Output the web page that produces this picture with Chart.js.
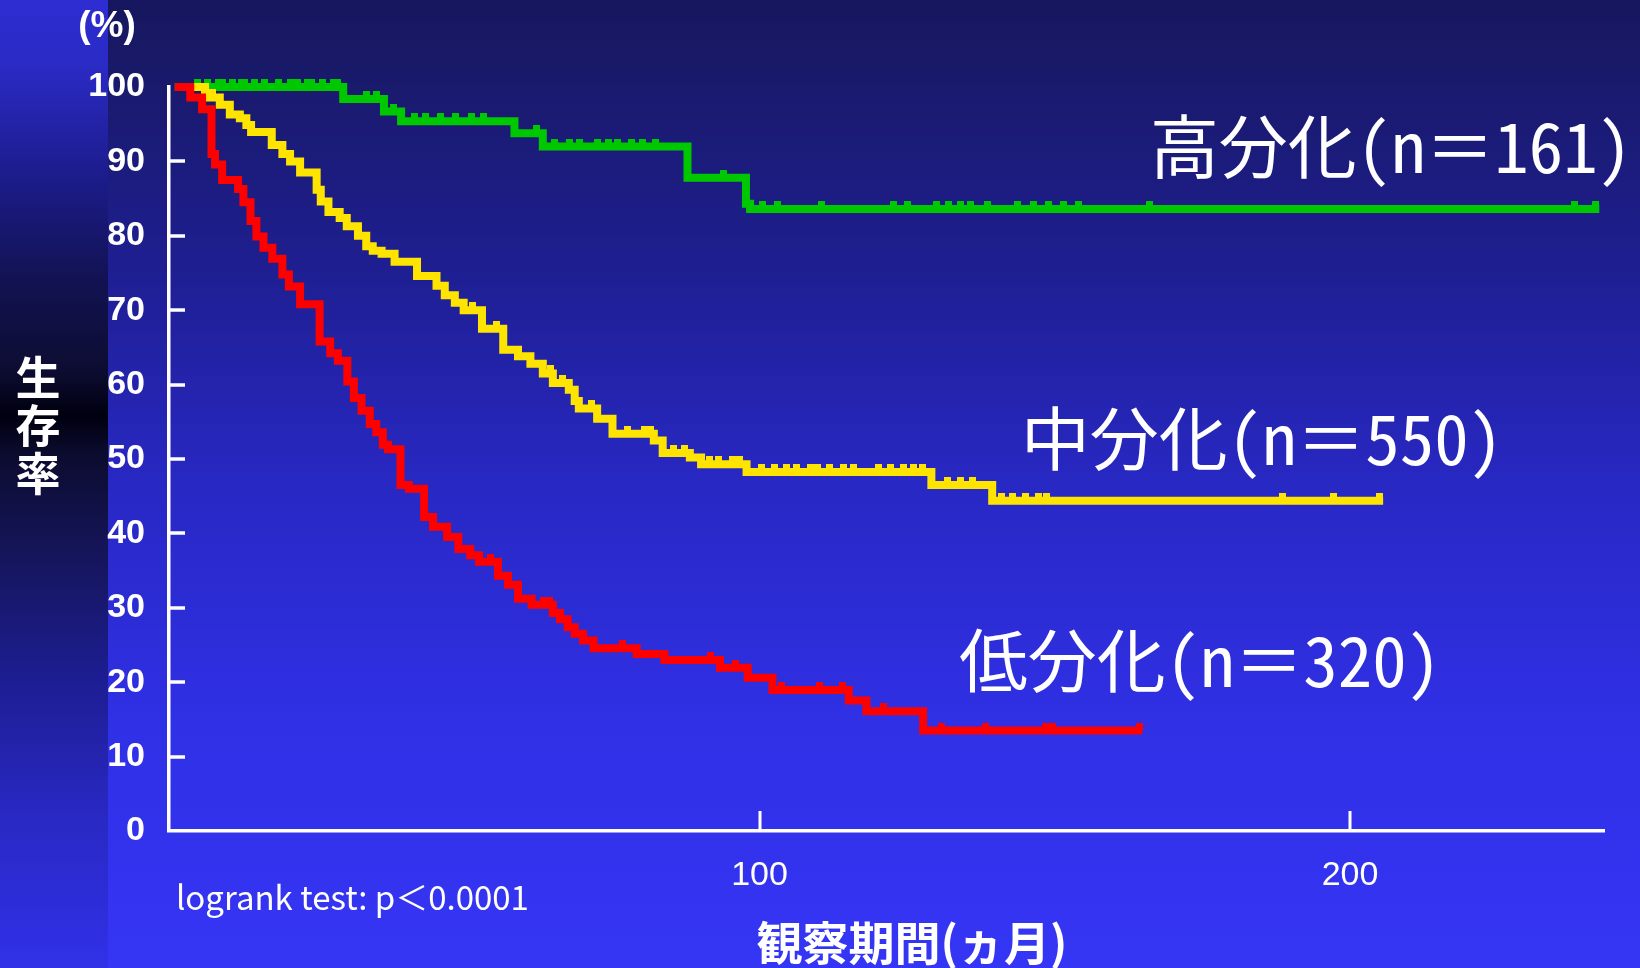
<!DOCTYPE html>
<html lang="ja">
<head>
<meta charset="utf-8">
<title>組織分化度別 生存率</title>
<script src="https://cdn.jsdelivr.net/npm/chart.js@4.4.1/dist/chart.umd.min.js"></script>
<style>
  html, body { margin: 0; padding: 0; background: #1a1a80; overflow: hidden; }
  canvas { display: block; }
</style>
</head>
<body>
<canvas id="km" width="1640" height="968"></canvas>
<script>
// ---- Kaplan–Meier data: month of each drop and survival (%) after it ----

// 低分化 (n=320)
const lowMonths   = [1, 3.6, 5.6, 7.2, 7.8, 9.0, 11.7, 12.6, 13.8, 14.8, 16.0, 17.5, 19.2, 20.3, 22.2,
                     25.5, 27.3, 28.6, 30.2, 31.3, 32.6, 34.0, 35.1, 36.2, 37.1, 39.2, 40.6, 43.2, 44.7,
                     47.1, 49.0, 51.0, 52.5, 55.7, 57.4, 59.1, 61.4, 65.0, 66.2, 67.5, 68.7, 70.1, 71.9,
                     79.2, 83.9, 93.3, 98.0, 102.2, 115.1, 118.1, 127.7, 164.8];
const lowSurvival = [100, 98.6, 97.0, 91.0, 89.6, 87.5, 86.3, 84.5, 82.0, 79.9, 78.4, 76.9, 74.8, 73.2, 70.8,
                     65.8, 64.2, 63.2, 60.4, 58.2, 56.5, 54.7, 53.6, 51.9, 51.3, 46.5, 46.0, 42.2, 40.9,
                     39.5, 37.9, 37.05, 36.2, 34.3, 33.1, 31.2, 30.4, 29.3, 28.45, 27.4, 26.5, 25.6, 24.55,
                     23.8, 23.0, 21.95, 20.6, 18.95, 17.55, 16.1, 13.5, 13.5];
const lowCensored = [54.5, 63.4, 64.5, 76.8, 91.7, 96.0, 103.8, 110.2, 114.0, 121.0, 130.8, 138.2,
                     148.5, 149.6, 164.4];

// 中分化 (n=550)
const midMonths   = [1, 6.1, 8.6, 10.3, 12.0, 13.1, 13.9, 17.4, 19.2, 20.5, 22.2, 25.0, 25.7, 27.0, 28.9,
                     30.1, 32.0, 33.4, 34.5, 36.0, 38.2, 42.0, 45.3, 46.7, 48.4, 49.9, 53.0, 56.6, 59.1,
                     61.2, 63.3, 65.0, 67.7, 68.7, 69.4, 72.5, 75.1, 82.1, 83.6, 88.2, 90.1, 97.8, 129.1,
                     139.4, 205.6];
const midSurvival = [100, 98.6, 97.6, 96.3, 95.8, 94.9, 93.95, 92.2, 91.0, 90.0, 88.5, 86.2, 84.6, 83.2, 82.4,
                     81.3, 80.0, 78.6, 78.0, 77.6, 76.5, 74.6, 73.3, 72.0, 71.0, 70.0, 67.5, 64.7, 63.8,
                     62.8, 61.5, 60.2, 59.3, 57.8, 56.8, 55.4, 53.4, 52.5, 50.8, 50.2, 49.3, 48.25, 46.5,
                     44.4, 44.4];
const midCensored = [7.3, 51.4, 55.4, 64.6, 66.7, 71.6, 77.6, 80.5, 81.6, 85.5, 87.3, 91.5, 93.0, 95.5,
                     96.6, 100.3, 102.5, 104.5, 106.3, 108.6, 109.8, 111.8, 114.2, 115.9, 120.1, 122.1,
                     124.4, 126.0, 127.6, 131.8, 134.0, 136.0, 141.0, 142.8, 145.0, 147.3, 148.6,
                     188.5, 197.2, 204.9];

// 高分化 (n=161)
const highMonths   = [1, 29.5, 36.4, 39.3, 58.5, 63.3, 87.8, 97.7, 98.4, 242.2];
const highSurvival = [100, 98.4, 96.7, 95.4, 93.8, 92.0, 87.8, 84.3, 83.6, 83.6];
const highCensored = [4.9, 6.5, 8.3, 9.1, 10.8, 12.2, 12.8, 14.5, 16.1, 18.6, 20.5, 21.8, 23.5, 24.2,
                      26.0, 27.9, 28.6, 33.5, 35.2, 38.0, 41.5, 43.5, 46.0, 48.5, 51.3, 53.2, 62.2,
                      65.2, 67.8, 69.5, 72.5, 74.5, 76.0, 78.3, 80.2, 82.3, 93.9, 100.5, 103.0, 110.5,
                      122.7, 125.0, 130.0, 132.0, 134.0, 135.7, 138.6, 143.7, 146.4, 149.0, 151.4,
                      154.0, 166.0, 238.0, 241.6];

const groupLabels = ['低分化(n＝320)', '中分化(n＝550)', '高分化(n＝161)'];
const lineColors  = ['#ff0000', '#ffe400', '#00c800'];

const yTickValues = [0, 10, 20, 30, 40, 50, 60, 70, 80, 90, 100];
const xTickValues = [100, 200];
const xMaxMonth = 243;

const yTitleChars = ['生', '存', '率'];
const xTitle = '観察期間(ヵ月)';
const unitLabel = '(%)';
const testLabel = 'logrank test: p＜0.0001';

// ---- helpers ----
const toPoints = (months, surv) => months.map((m, i) => ({ x: m, y: surv[i] }));
function levelAt(months, surv, t) {
  let v = surv[0];
  for (let i = 0; i < months.length; i++) if (months[i] <= t) v = surv[i];
  return v;
}
const censorPoints = (months, surv, cens) => cens.map(t => ({ x: t, y: levelAt(months, surv, t) }));

// small upward tick used as the censoring mark
function censorGlyph(color) {
  const c = document.createElement('canvas');
  c.width = 7; c.height = 16;
  const g = c.getContext('2d');
  g.fillStyle = color;
  g.fillRect(0, 0, 7, 8);
  return c;
}

function curve(months, surv, color, order) {
  return {
    data: toPoints(months, surv), showLine: true, stepped: 'before',
    borderColor: color, borderWidth: 8, borderJoinStyle: 'miter', borderCapStyle: 'butt',
    pointRadius: 0, pointHoverRadius: 0, fill: false, clip: false, order
  };
}
function marks(months, surv, cens, color, order) {
  return {
    data: censorPoints(months, surv, cens), showLine: false,
    pointStyle: censorGlyph(color), pointRadius: 4, pointHoverRadius: 4,
    clip: false, order
  };
}

const CJK = "'Noto Sans Mono CJK JP', 'Noto Sans CJK JP', sans-serif";
const CJK_P = "'Noto Sans CJK JP', sans-serif";
const SANS = "'Liberation Sans', sans-serif";

const decor = {
  id: 'decor',
  beforeDraw(chart) {
    const { ctx, width, height } = chart;
    ctx.save();
    const g = ctx.createLinearGradient(0, 0, 0, height);
    g.addColorStop(0.00, '#16165e');
    g.addColorStop(0.06, '#191968');
    g.addColorStop(0.27, '#1e1e90');
    g.addColorStop(0.50, '#2828c4');
    g.addColorStop(0.75, '#3030e6');
    g.addColorStop(1.00, '#3535f5');
    ctx.fillStyle = g;
    ctx.fillRect(0, 0, width, height);

    const s = ctx.createLinearGradient(0, 0, 0, height);
    s.addColorStop(0.00, '#2d2dd2');
    s.addColorStop(0.07, '#2a2ac4');
    s.addColorStop(0.19, '#1b1b88');
    s.addColorStop(0.29, '#121252');
    s.addColorStop(0.38, '#0d0d33');
    s.addColorStop(0.43, '#000010');
    s.addColorStop(0.47, '#0c0c30');
    s.addColorStop(0.57, '#15155a');
    s.addColorStop(0.70, '#1d1d92');
    s.addColorStop(0.83, '#2828c0');
    s.addColorStop(1.00, '#3131e8');
    ctx.fillStyle = s;
    ctx.fillRect(0, 0, 108, height);
    ctx.restore();
  },
  beforeDatasetsDraw(chart) {
    // inward tick marks on both axes
    const { ctx, scales: { x, y } } = chart;
    ctx.save();
    ctx.strokeStyle = '#ffffff';
    ctx.lineWidth = 3.5;
    yTickValues.filter(v => v > 0 && v < 100).forEach(v => {
      const py = Math.round(y.getPixelForValue(v));
      ctx.beginPath(); ctx.moveTo(x.left, py); ctx.lineTo(x.left + 16, py); ctx.stroke();
    });
    ctx.lineWidth = 3;
    xTickValues.forEach(v => {
      const px = Math.round(x.getPixelForValue(v));
      ctx.beginPath(); ctx.moveTo(px, y.bottom); ctx.lineTo(px, y.bottom - 20); ctx.stroke();
    });
    ctx.restore();
  },
  afterDraw(chart) {
    const { ctx } = chart;
    ctx.save();
    ctx.fillStyle = '#ffffff';
    ctx.textBaseline = 'middle';

    ctx.textAlign = 'center';
    ctx.font = "bold 37px " + SANS;
    ctx.fillText(unitLabel, 107, 27, 60);

    ctx.font = "bold 45px " + CJK_P;
    yTitleChars.forEach((ch, i) => ctx.fillText(ch, 38, 378 + i * 48));

    ctx.font = "bold 46px " + CJK_P;
    ctx.fillText(xTitle, 912, 943, 316);

    ctx.textAlign = 'left';
    ctx.font = "33px " + CJK_P;
    ctx.fillText(testLabel, 176, 897, 358);

    ctx.font = "69px " + CJK;
    const pos = [[959, 661], [1021, 439], [1150, 147]];
    groupLabels.forEach((t, i) => ctx.fillText(t, pos[i][0], pos[i][1], 482));
    ctx.restore();
  }
};

new Chart(document.getElementById('km'), {
  type: 'scatter',
  data: {
    datasets: [
      marks(lowMonths, lowSurvival, lowCensored, lineColors[0], 0),
      curve(lowMonths, lowSurvival, lineColors[0], 1),
      marks(midMonths, midSurvival, midCensored, lineColors[1], 2),
      curve(midMonths, midSurvival, lineColors[1], 3),
      marks(highMonths, highSurvival, highCensored, lineColors[2], 4),
      curve(highMonths, highSurvival, lineColors[2], 5)
    ]
  },
  options: {
    responsive: false,
    devicePixelRatio: 1,
    animation: false,
    events: [],
    layout: { padding: { top: 87, right: 36, bottom: 0, left: 0 } },
    plugins: { legend: { display: false }, tooltip: { enabled: false } },
    scales: {
      x: {
        type: 'linear', min: 0, max: xMaxMonth,
        afterBuildTicks: s => { s.ticks = xTickValues.map(v => ({ value: v })); },
        afterFit: s => { s.height = 137; },
        grid: { display: false, drawTicks: false },
        border: { display: true, color: '#ffffff', width: 3.5 },
        ticks: { color: '#ffffff', padding: 24, font: { family: SANS, size: 34 } }
      },
      y: {
        type: 'linear', min: 0, max: 100,
        afterBuildTicks: s => { s.ticks = yTickValues.map(v => ({ value: v })); },
        afterFit: s => { s.width = 169; },
        grid: { display: false, drawTicks: false },
        border: { display: true, color: '#ffffff', width: 3.5 },
        ticks: { color: '#ffffff', padding: 24, font: { family: SANS, size: 34, weight: 'bold' } }
      }
    }
  },
  plugins: [decor]
});
</script>
</body>
</html>
